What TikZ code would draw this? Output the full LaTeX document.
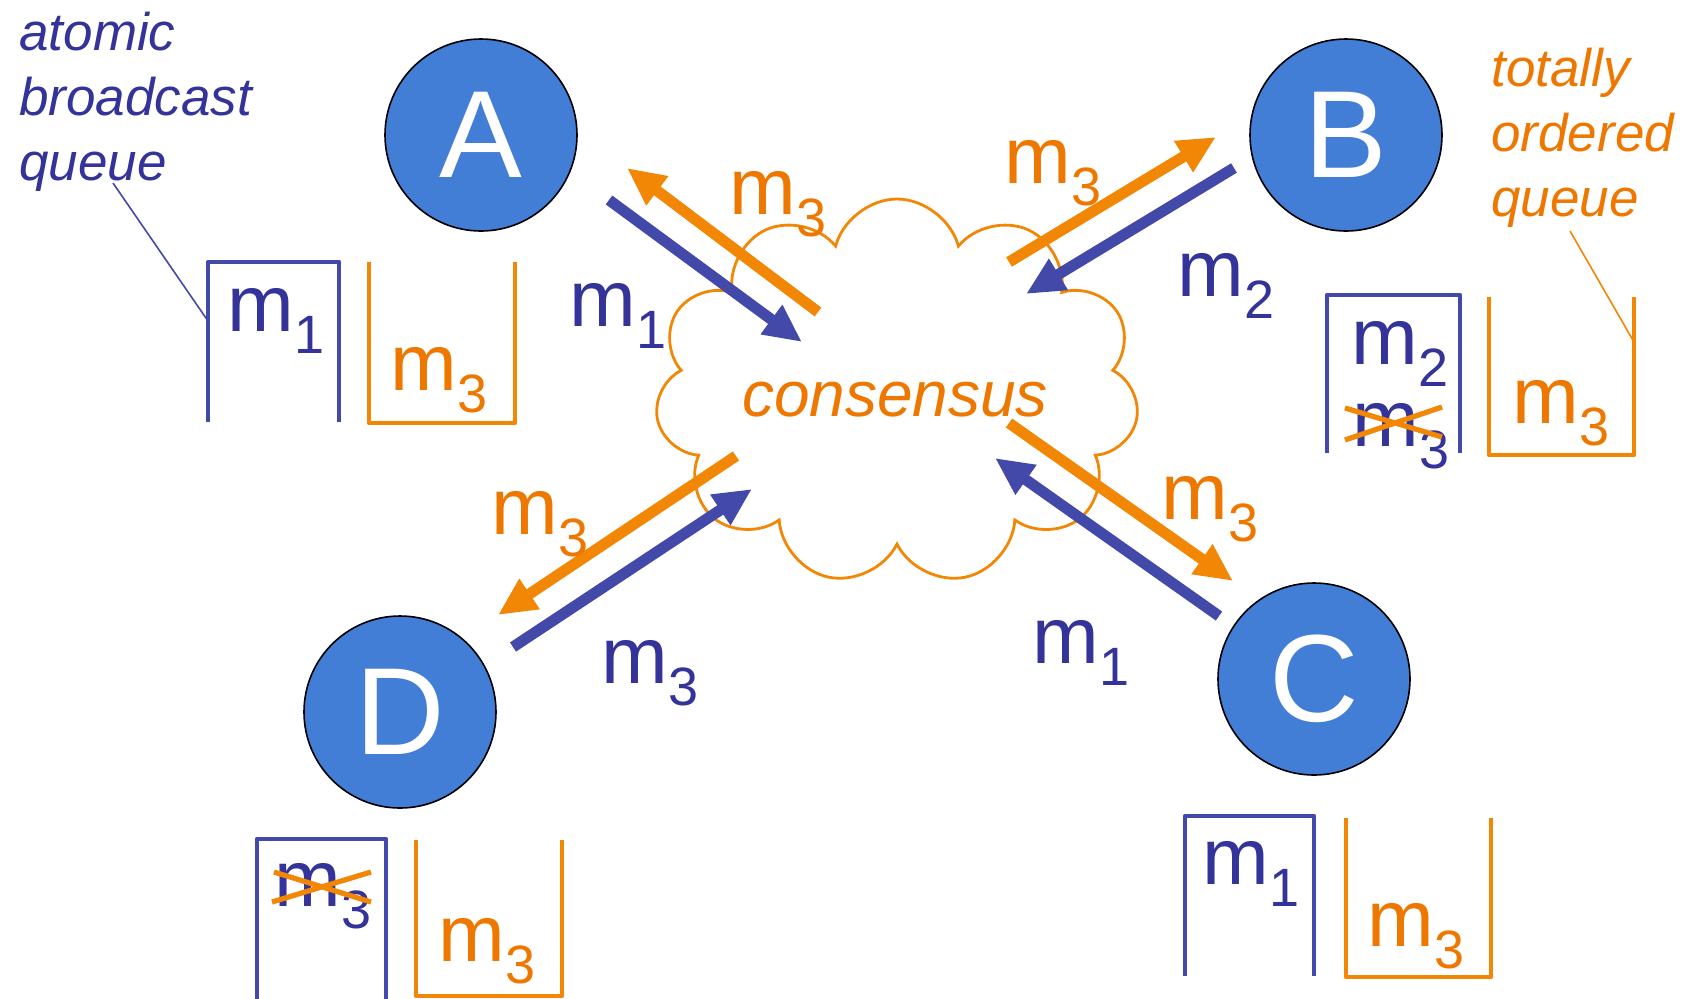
\documentclass[tikz,border=0pt]{standalone}
\usepackage{fontspec}
\setmainfont{Liberation Sans}
\usetikzlibrary{arrows.meta,shapes.symbols}
\definecolor{QueueBlue}{HTML}{4249A8}
\definecolor{TextBlue}{HTML}{333399}
\definecolor{ProcBlue}{HTML}{427DD6}
\definecolor{QueueOrange}{HTML}{F28705}
\definecolor{TextOrange}{HTML}{EE7700}
\newcommand{\msgnum}[1]{m\raisebox{-11pt}{\fontsize{27}{27}\selectfont #1}}
\tikzset{proc/.style={circle,draw=black,line width=0.8pt,fill=ProcBlue,minimum size=96pt,inner sep=0pt,text=white,font=\fontsize{62}{62}\selectfont},
lblB/.style={text=TextBlue,font=\fontsize{40}{40}\selectfont,inner sep=0pt},lblO/.style={lblB,text=TextOrange},
arrB/.style={-{Triangle[length=19pt,width=17pt]},line width=5.5pt,QueueBlue},arrO/.style={arrB,QueueOrange},
qB/.style={draw=QueueBlue,line width=2.2pt,line join=round},qO/.style={draw=QueueOrange,line width=2.2pt,line join=round},
xout/.style={draw=QueueOrange,line width=2.6pt},
note/.style={font=\fontsize{26.5}{32.3}\selectfont\itshape,align=left,inner sep=0pt,anchor=north west}}

\begin{document}
\begin{tikzpicture}[x=0.5pt,y=-0.5pt]
\useasboundingbox (0,0) rectangle (1688,998);
% processes and the consensus cloud
\node[proc] (A) at (481,135) {A};
\node[proc] (B) at (1346,135) {B};
\node[proc] (C) at (1314,679) {C};
\node[proc] (D) at (400,712) {D};
\node[cloud,cloud puffs=11,cloud puff arc=150,cloud ignores aspect,draw=QueueOrange,line width=1.4pt,minimum width=242pt,minimum height=193pt] (cloud) at (897,392) {};
\node[text=TextOrange,font=\fontsize{32}{32}\selectfont\itshape,inner sep=0pt] (cons) at (895,400) {consensus};
% arrow ends
\coordinate (A-out) at (609,200); \coordinate (A-outtip) at (802,342);
\coordinate (A-in) at (818,312); \coordinate (A-intip) at (627,168);
\coordinate (B-in) at (1009,262); \coordinate (B-intip) at (1216,137);
\coordinate (B-out) at (1234,168); \coordinate (B-outtip) at (1026,294);
\coordinate (C-in) at (1009,423); \coordinate (C-intip) at (1233,581);
\coordinate (C-out) at (1219,616); \coordinate (C-outtip) at (995,458);
\coordinate (D-in) at (736,456); \coordinate (D-intip) at (498,615);
\coordinate (D-out) at (513,647); \coordinate (D-outtip) at (752,489);
\draw[arrB] (A-out)--(A-outtip); \draw[arrO] (A-in)--(A-intip);
\draw[arrO] (B-in)--(B-intip); \draw[arrB] (B-out)--(B-outtip);
\draw[arrO] (C-in)--(C-intip); \draw[arrB] (C-out)--(C-outtip);
\draw[arrO] (D-in)--(D-intip); \draw[arrB] (D-out)--(D-outtip);
% message labels
\node[lblB] (lA1) at (618,316) {\msgnum{1}};
\node[lblO] (lA3) at (778,204) {\msgnum{3}};
\node[lblO] (lB3) at (1053,173) {\msgnum{3}};
\node[lblB] (lB2) at (1226,286) {\msgnum{2}};
\node[lblO] (lC3) at (1210,509) {\msgnum{3}};
\node[lblB] (lC1) at (1081,653) {\msgnum{1}};
\node[lblO] (lD3) at (540,524) {\msgnum{3}};
\node[lblB] (lD3b) at (650,673) {\msgnum{3}};
% queues of A
\draw[qB] (208,422)--(208,262)--(339,262)--(339,422);
\draw[qO] (369,262)--(369,423)--(515,423)--(515,262);
\node[lblB] (qA1) at (276,321) {\msgnum{1}};
\node[lblO] (qA3) at (439,380) {\msgnum{3}};
% queues of B
\draw[qB] (1327,453)--(1327,295)--(1460,295)--(1460,453);
\draw[qO] (1489,297)--(1489,455)--(1634,455)--(1634,297);
\node[lblB] (qB2) at (1400,354) {\msgnum{2}};
\node[lblB] (qB3) at (1401,436) {\msgnum{3}};
\draw[xout] (1345,408)--(1442,437); \draw[xout] (1345,440)--(1442,407);
\node[lblO] (qB3o) at (1561,413) {\msgnum{3}};
% queues of C
\draw[qB] (1185,976)--(1185,816)--(1314,816)--(1314,976);
\draw[qO] (1346,818)--(1346,977)--(1491,977)--(1491,818);
\node[lblB] (qC1) at (1251,874) {\msgnum{1}};
\node[lblO] (qC3) at (1416,936) {\msgnum{3}};
% queues of D
\draw[qB] (257,1000)--(257,839)--(386,839)--(386,1000);
\draw[qO] (416,840)--(416,996)--(562,996)--(562,840);
\node[lblB] (qD3) at (323,896) {\msgnum{3}};
\draw[xout] (272,902)--(371,872); \draw[xout] (274,872)--(371,902);
\node[lblO] (qD3o) at (487,951) {\msgnum{3}};
% queue notes
\node[note,text=TextBlue] (abq) at (19,12) {atomic\\broadcast\\queue};
\node[note,text=TextOrange] (toq) at (1491,48) {totally\\ordered\\queue};
\coordinate (abq-end) at (113,183); \coordinate (abq-box) at (208,321);
\coordinate (toq-end) at (1570,231); \coordinate (toq-box) at (1634,342);
\draw[QueueBlue,line width=0.8pt] (abq-end)--(abq-box);
\draw[QueueOrange,line width=0.8pt] (toq-end)--(toq-box);
\end{tikzpicture}
\end{document}
